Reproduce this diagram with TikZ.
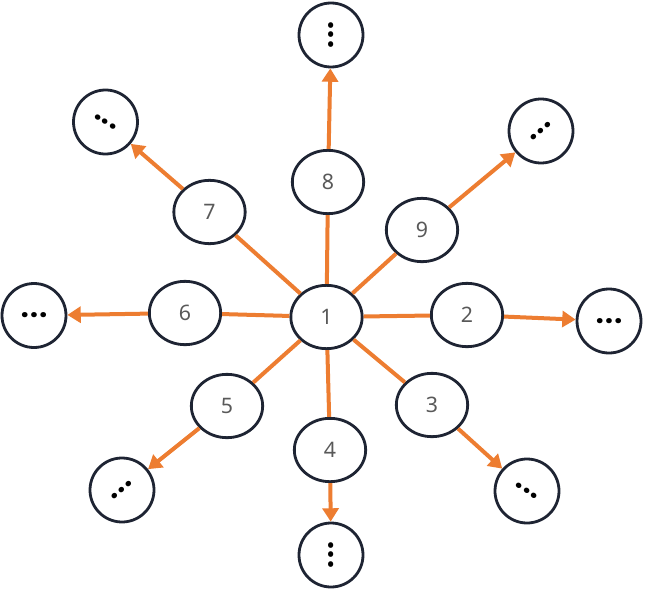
\documentclass[tikz,border=0pt]{standalone}
\usepackage{fontspec}
\setmainfont{Noto Sans}
\newfontfamily\dotfont{Poppins}
\usetikzlibrary{shapes.geometric,arrows.meta}
\definecolor{edgeorange}{HTML}{ED7D31}
\definecolor{ringdark}{HTML}{1E2433}
\definecolor{numgray}{HTML}{595959}
\newcommand\tridots{.\kern1pt.\kern1pt.}

\begin{document}
\begin{tikzpicture}[x=0.75pt,y=-0.75pt,>={Triangle[length=10pt,width=12pt]},
  num/.style={ellipse,draw=ringdark,line width=2.1pt,minimum width=53.5pt,minimum height=47.5pt,
    inner sep=0pt,text=numgray,font=\fontsize{16}{16}\selectfont},
  far/.style={circle,draw=ringdark,line width=2.1pt,minimum size=48pt,inner sep=0pt,
    text=black,font=\dotfont\bfseries\fontsize{21}{21}\selectfont},
  link/.style={draw=edgeorange,line width=3pt}]
  \useasboundingbox (0,0) rectangle (645,592);
  % 中心と第一層
  \node[num] (n1) at (326.5,317) {1};
  \node[num] (n2) at (467,315) {2};
  \node[num] (n3) at (432,405) {3};
  \node[num] (n4) at (330,450) {4};
  \node[num] (n5) at (227,406) {5};
  \node[num] (n6) at (185,313) {6};
  \node[num] (n7) at (209.5,212) {7};
  \node[num] (n8) at (328,182) {8};
  \node[num] (n9) at (422,230) {9};
  % 第二層（省略記号）
  \node[far] (o2) at (609,321) {\tridots};
  \node[far,rotate=-35] (o3) at (527,491) {\tridots};
  \node[far,rotate=90] (o4) at (331,555) {\tridots};
  \node[far,rotate=43] (o5) at (122,490) {\tridots};
  \node[far] (o6) at (34,315.5) {\tridots};
  \node[far,rotate=-32] (o7) at (105.5,122) {\tridots};
  \node[far,rotate=90] (o8) at (331,35) {\tridots};
  \node[far,rotate=42] (o9) at (541,131) {\tridots};
  % 辺
  \foreach \k in {2,...,9}{
    \draw[link] (n1) -- (n\k);
    \draw[link,->] (n\k) -- (o\k);
  }
\end{tikzpicture}
\end{document}
